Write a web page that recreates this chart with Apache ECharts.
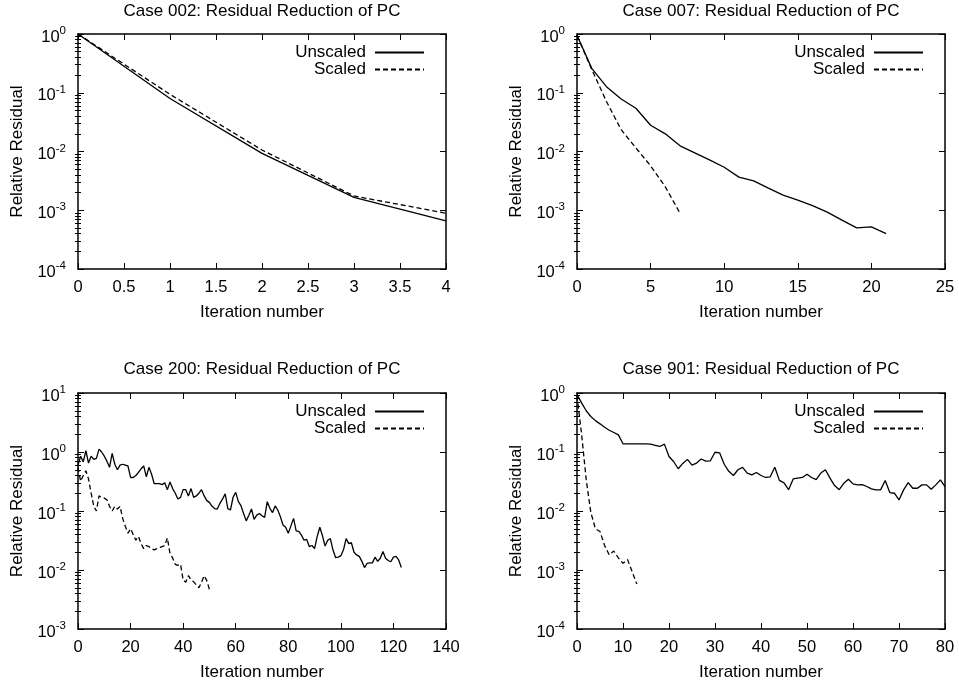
<!DOCTYPE html>
<html><head><meta charset="utf-8">
<script src="https://cdn.jsdelivr.net/npm/echarts@6/dist/echarts.min.js"></script>
<style>html,body{margin:0;padding:0;background:#fff}#c{width:959px;height:688px}</style>
</head><body><div id="c"></div>
<script>
// ---------- data ----------
const titles = ['Case 002: Residual Reduction of PC', 'Case 007: Residual Reduction of PC',
                'Case 200: Residual Reduction of PC', 'Case 901: Residual Reduction of PC'];
const seriesNames = ['Unscaled', 'Scaled'];
const xAxisName = 'Iteration number';
const yAxisName = 'Relative Residual';

const case002Iter = [0, 1, 2, 3, 4];
const case002Unscaled = [1.0, 0.080, 0.0093, 0.00166, 0.00066];
const case002Scaled = [1.0, 0.094, 0.0106, 0.00175, 0.00089];

const case007Unscaled = [0.95, 0.26, 0.127, 0.0785, 0.0545, 0.028, 0.020, 0.0125, 0.0095, 0.0072,
  0.0054, 0.00366, 0.00317, 0.00238, 0.00181, 0.00149, 0.0012, 0.00093, 0.00068, 0.0005,
  0.00052, 0.0004];
const case007Scaled = [0.95, 0.25, 0.071, 0.0235, 0.0115, 0.0057, 0.0025, 0.00089];

const case200Unscaled = [0.6, 0.85, 0.68, 1.05, 0.65, 0.85, 0.75, 0.78, 1.12, 1.0,
  0.85, 0.7, 0.55, 0.95, 0.62, 0.5, 0.6, 0.62, 0.6, 0.58,
  0.37, 0.37, 0.4, 0.45, 0.52, 0.58, 0.38, 0.55, 0.42, 0.29,
  0.29, 0.29, 0.28, 0.3, 0.23, 0.31, 0.24, 0.2, 0.16, 0.17,
  0.23, 0.23, 0.18, 0.24, 0.17, 0.18, 0.2, 0.23, 0.18, 0.15,
  0.14, 0.12, 0.11, 0.108, 0.135, 0.16, 0.195, 0.11, 0.104, 0.171,
  0.207, 0.144, 0.123, 0.091, 0.068, 0.085, 0.108, 0.072, 0.085, 0.091,
  0.083, 0.078, 0.144, 0.111, 0.094, 0.122, 0.104, 0.08, 0.058, 0.053,
  0.042, 0.056, 0.075, 0.046, 0.045, 0.039, 0.032, 0.033, 0.025, 0.026,
  0.023, 0.037, 0.053, 0.038, 0.0255, 0.032, 0.034, 0.0218, 0.0163, 0.0165,
  0.0175, 0.022, 0.034, 0.028, 0.029, 0.02, 0.018, 0.017, 0.014, 0.011,
  0.013, 0.0132, 0.0132, 0.0165, 0.014, 0.0158, 0.0205, 0.0158, 0.0145, 0.0138,
  0.0165, 0.017, 0.0148, 0.011];
const case200Scaled = [0.55, 0.32, 0.4, 0.48, 0.35, 0.2, 0.12, 0.1, 0.18, 0.17,
  0.165, 0.155, 0.12, 0.1, 0.12, 0.108, 0.12, 0.075, 0.055, 0.042,
  0.05, 0.04, 0.032, 0.037, 0.028, 0.023, 0.026, 0.025, 0.023, 0.022,
  0.023, 0.024, 0.025, 0.026, 0.035, 0.019, 0.016, 0.0125, 0.012, 0.0125,
  0.0068, 0.0062, 0.008, 0.0068, 0.0063, 0.0056, 0.005, 0.0062, 0.008, 0.0066,
  0.0047];

const case901Unscaled = [0.95, 0.68, 0.5, 0.4, 0.34, 0.3, 0.263, 0.234, 0.214, 0.195,
  0.138, 0.137, 0.137, 0.137, 0.137, 0.137, 0.136, 0.13, 0.124, 0.136,
  0.084, 0.069, 0.052, 0.064, 0.075, 0.06, 0.065, 0.076, 0.07, 0.071,
  0.099, 0.097, 0.062, 0.047, 0.04, 0.05, 0.055, 0.044, 0.041, 0.045,
  0.04, 0.037, 0.038, 0.055, 0.033, 0.03, 0.023, 0.035, 0.036, 0.037,
  0.042, 0.037, 0.034, 0.044, 0.05, 0.036, 0.027, 0.023, 0.0295, 0.0345,
  0.0288, 0.0277, 0.028, 0.026, 0.0237, 0.0228, 0.0228, 0.0328, 0.0205, 0.02,
  0.0154, 0.0228, 0.0303, 0.0243, 0.0243, 0.0277, 0.0277, 0.0233, 0.0277, 0.0337,
  0.026];
const case901Scaled = [0.9, 0.2, 0.034, 0.0095, 0.005, 0.0045, 0.0026, 0.0018, 0.0021, 0.0016,
  0.0013, 0.0015, 0.00093, 0.00058];

const xRanges = [[0, 4, 0.5], [0, 25, 5], [0, 140, 20], [0, 80, 10]];
const yRanges = [[1e-4, 1], [1e-4, 1], [1e-3, 10], [1e-4, 1]];

// ---------- layout ----------
const FONT = '"Liberation Sans", Arial, Helvetica, sans-serif';
const grids = [
  {left: 78, top: 34, width: 368, height: 235},
  {left: 577, top: 34, width: 368, height: 235},
  {left: 78, top: 393, width: 368, height: 236},
  {left: 577, top: 393, width: 368, height: 236}
];
const panelData = [
  [case002Unscaled.map((v, i) => [case002Iter[i], v]), case002Scaled.map((v, i) => [case002Iter[i], v])],
  [case007Unscaled.map((v, i) => [i, v]), case007Scaled.map((v, i) => [i, v])],
  [case200Unscaled.map((v, i) => [i, v]), case200Scaled.map((v, i) => [i, v])],
  [case901Unscaled.map((v, i) => [i, v]), case901Scaled.map((v, i) => [i, v])]
];

function decades(lo, hi) {
  const out = [];
  for (let e = Math.round(Math.log10(lo)); e <= Math.round(Math.log10(hi)); e++) out.push(Math.pow(10, e));
  return out;
}
function minors(lo, hi) {
  const out = [];
  for (let e = Math.round(Math.log10(lo)); e < Math.round(Math.log10(hi)); e++)
    for (let k = 2; k <= 9; k++) out.push(+(k * Math.pow(10, e)).toPrecision(6));
  return out;
}

const lineBlack = {color: '#000', width: 1.5};
const xAxes = [], yAxes = [], series = [], titleArr = [], legends = [];

grids.forEach((g, i) => {
  const [xmin, xmax, xint] = xRanges[i];
  const [ymin, ymax] = yRanges[i];
  const dec = decades(ymin, ymax), mins = minors(ymin, ymax);
  const baseX = {gridIndex: i, type: 'value', min: xmin, max: xmax, interval: xint,
    splitLine: {show: false},
    axisLine: {show: true, onZero: false, lineStyle: lineBlack},
    axisTick: {show: true, inside: true, length: 6, lineStyle: {color: '#000', width: 1}}};
  xAxes.push(Object.assign({}, baseX, {position: 'bottom',
    name: xAxisName, nameLocation: 'middle', nameGap: 35,
    nameTextStyle: {fontSize: 17, color: '#000', fontFamily: FONT},
    axisLabel: {show: true, margin: 10, fontSize: 16.5, color: '#000', fontFamily: FONT}}));
  xAxes.push(Object.assign({}, baseX, {position: 'top', axisLabel: {show: false}}));

  const baseY = {gridIndex: i, type: 'log', logBase: 10, min: ymin, max: ymax,
    splitLine: {show: false}, axisLabel: {show: false},
    axisLine: {show: true, onZero: false, lineStyle: lineBlack}};
  ['left', 'right'].forEach(pos => {
    const major = Object.assign({}, baseY, {position: pos,
      axisTick: {show: true, inside: true, length: 6, customValues: dec, lineStyle: {color: '#000', width: 1}}});
    if (pos === 'left') {
      major.name = yAxisName;
      major.nameLocation = 'middle';
      major.nameGap = 52;
      major.nameTextStyle = {fontSize: 17, color: '#000', fontFamily: FONT};
      major.axisLabel = {show: true, margin: 12, customValues: dec,
        formatter: v => '{m|10}{e|' + Math.round(Math.log10(v)) + '}',
        rich: {
          m: {fontSize: 16.5, color: '#000', fontFamily: FONT, padding: [6, 0, 0, 0]},
          e: {fontSize: 11.5, color: '#000', fontFamily: FONT, padding: [0, 0, 6, 0]}
        }};
    }
    yAxes.push(major);
    yAxes.push(Object.assign({}, baseY, {position: pos,
      axisLine: {show: false},
      axisTick: {show: true, inside: true, length: 3, customValues: mins, lineStyle: {color: '#000', width: 1}}}));
  });

  seriesNames.forEach((nm, s) => {
    series.push({type: 'line', name: nm, xAxisIndex: i * 2, yAxisIndex: i * 4,
      data: panelData[i][s], symbol: 'none', showSymbol: false, clip: true,
      lineStyle: {color: '#000', width: 1.3, type: s === 0 ? 'solid' : [5, 3]},
      itemStyle: {color: '#000'}, silent: true});
  });

  titleArr.push({text: titles[i], left: g.left + g.width / 2, textAlign: 'center',
    top: i < 2 ? 3 : 361, padding: 0,
    textStyle: {fontSize: 17, fontWeight: 'normal', color: '#000', fontFamily: FONT}});

  legends.push({orient: 'vertical', align: 'right', data: seriesNames,
    right: 959 - (g.left + g.width - 21), top: g.top + 10, padding: 0,
    itemWidth: 49, itemHeight: 14, itemGap: 0, selectedMode: false,
    itemStyle: {opacity: 0},
    textStyle: {fontSize: 17, lineHeight: 17, color: '#000', fontFamily: FONT, padding: [0, 4, 0, 0]}});
});

const chart = echarts.init(document.getElementById('c'), null, {renderer: 'canvas'});
chart.setOption({
  animation: false,
  backgroundColor: '#fff',
  textStyle: {fontFamily: FONT},
  title: titleArr,
  legend: legends,
  grid: grids,
  xAxis: xAxes,
  yAxis: yAxes,
  series: series
});
</script>
</body></html>
